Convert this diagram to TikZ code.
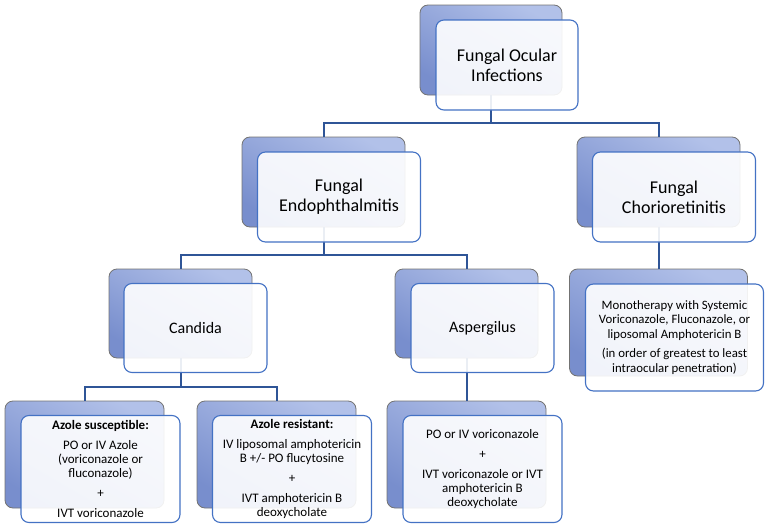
\documentclass[tikz,border=0pt]{standalone}
\usepackage{fontspec}
\setmainfont{Carlito}
\usetikzlibrary{positioning}
\definecolor{backlight}{RGB}{178,193,233}
\definecolor{backdark}{RGB}{120,142,205}
\definecolor{frontline}{RGB}{68,114,196}
\definecolor{linkblue}{RGB}{47,85,151}
\tikzset{back box/.style={rectangle,rounded corners=8pt,draw=black!55,line width=0.8pt,top color=backlight,bottom color=backdark,shading angle=-30,inner sep=0pt},
	front box/.style={rectangle,rounded corners=8pt,draw=frontline,line width=1.1pt,fill=white,fill opacity=0.9,text opacity=1,align=center,inner sep=0pt},
	link/.style={draw=linkblue,line width=2pt},
	lvl1/.style={minimum width=142pt,minimum height=90pt,font=\fontsize{18}{20}\selectfont},
	lvl2/.style={minimum width=163pt,minimum height=90pt,font=\fontsize{18}{20}\selectfont},
	lvl3/.style={minimum width=143pt,minimum height=89pt,font=\fontsize{16}{19}\selectfont},
	mono/.style={minimum width=178pt,minimum height=107pt,font=\fontsize{12.8}{14.5}\selectfont},
	lvl4/.style={minimum width=159pt,minimum height=107pt,font=\fontsize{13}{14}\selectfont},}

\begin{document}
\begin{tikzpicture}[x=1pt,y=-1pt]
			\useasboundingbox (0,0) rectangle (769,530);

			% back boxes
			\node[back box, lvl1] (ocularB) at (491, 50) {};
			\node[back box, lvl2] (endoB) at (323.5, 182) {};
			\node[back box, lvl2] (chorioB) at (658.5, 182) {};
			\node[back box, lvl3] (candB) at (180.5, 313.5) {};
			\node[back box, lvl3] (aspB) at (466.5, 313.5) {};
			\node[back box, mono] (monoB) at (658.5, 322.5) {};
			\node[back box, lvl4] (azsB) at (84.5, 454.5) {};
			\node[back box, lvl4] (azrB) at (276.5, 454.5) {};
			\node[back box, lvl4] (asptB) at (466.5, 454.5) {};

			% connectors
			\path[link]
				(ocularB.south) -- ++(0,28) -| (endoB.north)
				(ocularB.south) -- ++(0,28) -| (chorioB.north)
				(endoB.south) -- ++(0,28) -| (candB.north)
				(endoB.south) -- ++(0,28) -| (aspB.north)
				(chorioB.south) -- (monoB.north)
				(candB.south) -- ++(0,29) -| (azsB.north)
				(candB.south) -- ++(0,29) -| (azrB.north)
				(aspB.south) -- (asptB.north);

			% front boxes
			\node[front box, lvl1] (ocular) at ([shift={(16,15)}]ocularB.center) {Fungal Ocular\\Infections};
			\node[front box, lvl2] (endo) at ([shift={(15.5,15)}]endoB.center) {Fungal\\Endophthalmitis};
			\node[front box, lvl2] (chorio) at ([shift={(15.5,15)}]chorioB.center) {Fungal\\Chorioretinitis};
			\node[front box, lvl3] (cand) at ([shift={(15,14.5)}]candB.center) {Candida};
			\node[front box, lvl3] (asp) at ([shift={(16,14.5)}]aspB.center) {Aspergilus};
			\node[front box, mono] (monot) at ([shift={(16,15)}]monoB.center)
				{Monotherapy with Systemic\\Voriconazole, Fluconazole, or\\liposomal Amphotericin B\\[5pt](in order of greatest to least\\intraocular penetration)};
			\node[front box, lvl4] (azs) at ([shift={(16,14.5)}]azsB.center)
				{\textbf{Azole susceptible:}\\[6pt]PO or IV Azole\\(voriconazole or\\fluconazole)\\[6pt]+\\[6pt]IVT voriconazole};
			\node[front box, lvl4] (azr) at ([shift={(15.5,14.5)}]azrB.center)
				{\textbf{Azole resistant:}\\[6pt]IV liposomal amphotericin\\B +/- PO flucytosine\\[6pt]+\\[6pt]IVT amphotericin B\\deoxycholate};
			\node[front box, lvl4] (aspt) at ([shift={(16,14.5)}]asptB.center)
				{PO or IV voriconazole\\[6pt]+\\[6pt]IVT voriconazole or IVT\\amphotericin B\\deoxycholate};
		\end{tikzpicture}
\end{document}
